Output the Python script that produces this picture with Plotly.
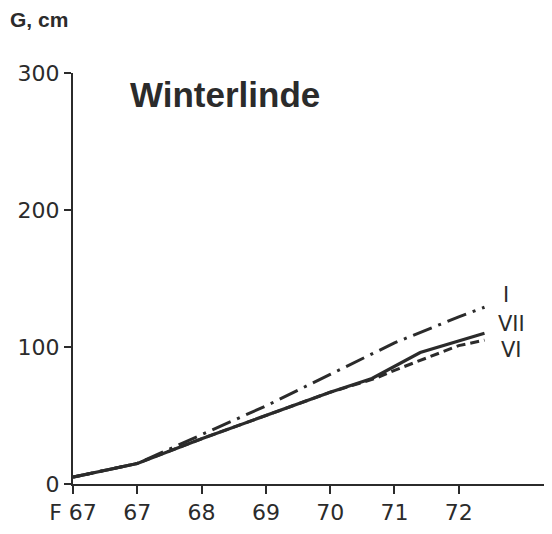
import plotly.graph_objects as go

# tick positions and labels (F 67 = spring 1967)
tick_vals = [66, 67, 68, 69, 70, 71, 72]
tick_text = ["F 67", "67", "68", "69", "70", "71", "72"]

# girth G in cm
x_I = [66, 67, 68, 69, 70, 71, 72, 72.4]
g_I = [5, 15, 36, 57, 80, 103, 122, 129]

x_VII = [66, 67, 68, 69, 70, 70.65, 71.4, 72.4]
g_VII = [5, 15, 33, 50, 67, 77, 96, 110]

x_VI = [66, 67, 68, 69, 70, 70.7, 71, 72, 72.4]
g_VI = [5, 15, 33, 50, 67, 77, 83, 101, 105]

ink = "#2b2b2b"
font = "DejaVu Sans, sans-serif"
title_font = "Liberation Sans, Arial, sans-serif"

fig = go.Figure()
fig.add_trace(go.Scatter(x=x_VI, y=g_VI, mode="lines",
                         line=dict(color=ink, width=3, dash="9px,5px")))
fig.add_trace(go.Scatter(x=x_I, y=g_I, mode="lines",
                         line=dict(color=ink, width=3, dash="20px,7px,3px,7px")))
fig.add_trace(go.Scatter(x=x_VII, y=g_VII, mode="lines",
                         line=dict(color=ink, width=3.2)))

# the page body adds 8px on top/left, margins are set to make up for it
fig.update_layout(
    width=552, height=534,
    margin=dict(l=65, r=8, t=65, b=58, autoexpand=False),
    paper_bgcolor="white", plot_bgcolor="white",
    showlegend=False,
    font=dict(family=font, color=ink, size=22),
    xaxis=dict(range=[66, 73.45], tickvals=tick_vals, ticktext=tick_text,
               showgrid=False, zeroline=False, showline=True, linecolor=ink,
               linewidth=2, ticks="outside", ticklen=8, tickwidth=2,
               tickcolor=ink, tickfont=dict(size=22), automargin=False),
    yaxis=dict(range=[0, 300], tickvals=[0, 100, 200, 300],
               showgrid=False, zeroline=False, showline=True, linecolor=ink,
               linewidth=2, ticks="outside", ticklen=7, tickwidth=2,
               tickcolor=ink, tickfont=dict(size=22), automargin=False),
)

fig.add_annotation(text="<b>G, cm</b>", xref="paper", yref="paper",
                   x=-0.136, y=1.129, xanchor="left", yanchor="middle",
                   showarrow=False, font=dict(size=21, family=title_font))
fig.add_annotation(text="<b>Winterlinde</b>", x=66.86, y=284,
                   xanchor="left", yanchor="middle", showarrow=False,
                   font=dict(size=35, family=title_font))
fig.add_annotation(text="I", x=72.66, y=138, xanchor="left", yanchor="middle",
                   showarrow=False, font=dict(size=21))
fig.add_annotation(text="VII", x=72.58, y=117, xanchor="left", yanchor="middle",
                   showarrow=False, font=dict(size=21))
fig.add_annotation(text="VI", x=72.62, y=98, xanchor="left", yanchor="middle",
                   showarrow=False, font=dict(size=21))

fig.write_html("out.html")
